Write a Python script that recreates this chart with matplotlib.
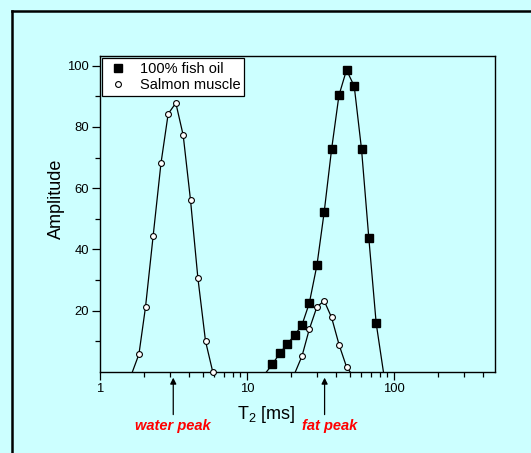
import matplotlib
matplotlib.use("Agg")
import matplotlib.pyplot as plt
from matplotlib.lines import Line2D
from matplotlib.ticker import FixedLocator, NullFormatter

plt.rcParams['font.family'] = ['Liberation Sans', 'DejaVu Sans']
plt.rcParams['mathtext.default'] = 'regular'

# fish oil: first and last points are the zero ends of the curve (no marker)
fish_t = [13.54, 14.88, 16.67, 18.81, 21.07, 23.66, 26.5, 29.9, 33.5, 37.6,
          42.2, 47.5, 53.6, 60.1, 67.4, 75.6, 84.7]
fish_a = [0, 2.5, 6.1, 9.2, 12.0, 15.4, 22.4, 34.9, 52.3, 72.7,
          90.3, 98.6, 93.3, 72.7, 43.6, 15.9, 0]

# salmon muscle, water peak and fat peak
salmon_w_t = [1.66, 1.84, 2.04, 2.30, 2.60, 2.91, 3.28, 3.68, 4.13, 4.63, 5.22, 5.85]
salmon_w_a = [0, 5.8, 21.2, 44.5, 68.2, 84.3, 87.8, 77.3, 56.0, 30.8, 10.1, 0]
salmon_f_t = [21.3, 23.66, 26.5, 29.9, 33.5, 37.6, 42.4, 47.5, 50.3]
salmon_f_a = [0, 5.2, 13.9, 21.3, 23.2, 17.8, 8.7, 1.7, 0]

series_names = ['100% fish oil', 'Salmon muscle']
peak_labels = ['water peak', 'fat peak']
peak_pos = [3.15, 33.7]

bg = '#ccffff'
fig = plt.figure(figsize=(5.31, 4.53), dpi=100, facecolor=bg)
ax = fig.add_axes([0.1883, 0.1788, 0.7439, 0.6965], facecolor=bg)

sq = dict(marker='s', ms=5.4, mfc='black', mec='black')
ci = dict(marker='o', ms=4.2, mfc='white', mec='black', mew=0.8)

ax.plot(fish_t, fish_a, color='black', lw=0.9, markevery=range(1, len(fish_t) - 1),
        clip_on=False, zorder=3, **sq)
ax.plot(salmon_w_t, salmon_w_a, color='black', lw=0.9,
        markevery=range(1, len(salmon_w_t)), clip_on=False, zorder=4, **ci)
ax.plot(salmon_f_t, salmon_f_a, color='black', lw=0.9,
        markevery=range(1, len(salmon_f_t) - 1), clip_on=False, zorder=4, **ci)

ax.set_xscale('log')
ax.set_xlim(1, 486)
ax.set_ylim(0, 103)
ax.set_xticks([1, 10, 100])
ax.set_xticklabels(['1', '10', '100'])
minors = [k * 10 ** e for e in range(3) for k in range(2, 10) if k * 10 ** e < 486]
ax.xaxis.set_minor_locator(FixedLocator(minors))
ax.xaxis.set_minor_formatter(NullFormatter())
ax.set_yticks([20, 40, 60, 80, 100])
ax.yaxis.set_minor_locator(FixedLocator([10, 30, 50, 70, 90]))
ax.tick_params(which='major', direction='out', length=6, width=0.9,
               labelsize=9.4, pad=2)
ax.tick_params(which='minor', direction='out', length=3.5, width=0.9)
for s in ax.spines.values():
    s.set_linewidth(1.0)

ax.set_ylabel('Amplitude', fontsize=13)
ax.yaxis.set_label_coords(-0.089, 0.55)
ax.set_xlabel('T$_2$ [ms]', fontsize=13)
ax.xaxis.set_label_coords(0.422, -0.1)

handles = [Line2D([], [], ls='None', **sq), Line2D([], [], ls='None', **ci)]
leg = ax.legend(handles, series_names, loc='upper left',
                bbox_to_anchor=(0.006, 0.994), fontsize=10.5,
                frameon=True, fancybox=False, edgecolor='black', facecolor='white',
                framealpha=1, handlelength=1.6, handletextpad=0.7,
                borderpad=0.25, labelspacing=0.15, borderaxespad=0)
leg.get_frame().set_linewidth(0.9)

for lab, xp in zip(peak_labels, peak_pos):
    ax.annotate('', xy=(xp, -0.018), xycoords=('data', 'axes fraction'),
                xytext=(xp, -0.135), textcoords=('data', 'axes fraction'),
                arrowprops=dict(arrowstyle='-|>', color='black', lw=0.9,
                                mutation_scale=9, shrinkA=0, shrinkB=0),
                annotation_clip=False)
    ax.text(xp * (1.09 if lab == 'fat peak' else 1.0), -0.17, lab,
            transform=ax.get_xaxis_transform(), ha='center', va='center',
            color='#ff0000', fontsize=10.5, fontweight='bold', style='italic')

# black frame around the panel (only top and left visible in the crop)
fig.add_artist(Line2D([11.5 / 531, 11.5 / 531], [0, 1 - 10.5 / 453],
                      transform=fig.transFigure, color='black', lw=1.8))
fig.add_artist(Line2D([11.5 / 531, 1], [1 - 10.5 / 453, 1 - 10.5 / 453],
                      transform=fig.transFigure, color='black', lw=1.8))

fig.savefig('out.png', dpi=100, facecolor=bg)
